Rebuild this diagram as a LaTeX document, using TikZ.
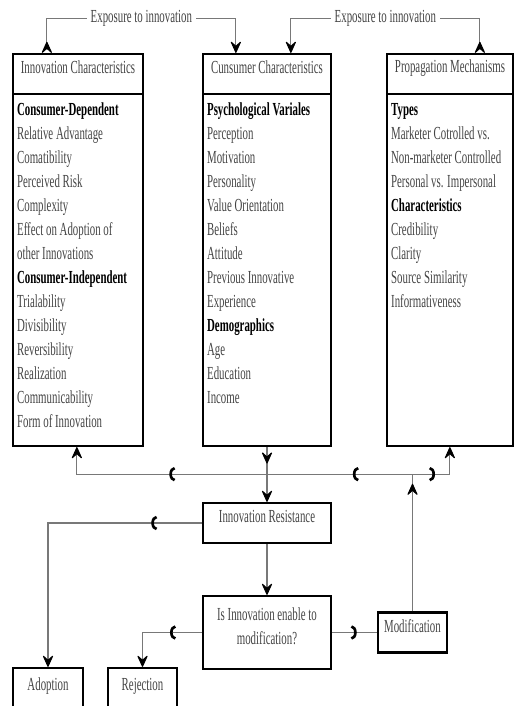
\documentclass[tikz,border=0pt]{standalone}
\usepackage{xcolor}
\usepackage{fontspec}
\setmainfont{Liberation Serif}[FakeStretch=0.59]
\usepackage{tikz}
\usetikzlibrary{calc, positioning, fit}
\usetikzlibrary{arrows.meta, decorations.markings}

\definecolor{txtgray}{RGB}{68,68,68}
\definecolor{wiregray}{RGB}{120,120,120}
\newcommand{\listhead}[1]{\textcolor{black}{\textbf{#1}}}

\tikzset{
  vtip/.tip={Stealth[color=black,length=10pt,width=9pt,inset=4pt,round]},
  rtip/.tip={Stealth[color=black,length=10pt,width=9pt,inset=4pt,round,reversed]},
  htip/.tip={Arc Barb[color=black,length=4pt,width=11pt,line width=2pt]},
  box/.style={draw=black, line width=1.7pt, inner sep=0pt, text=txtgray, align=center},
  wire/.style={draw=wiregray, line width=0.8pt},
  tag/.style={fill=white, inner sep=3pt, text=txtgray},
  itemlist/.style={anchor=north west, inner sep=0pt, align=left, text=txtgray},
  hmark/.style={postaction={decorate,decoration={markings,mark=at position #1 with {\arrow{htip}}}}},
  vmark/.style={postaction={decorate,decoration={markings,mark=at position #1 with {\arrow{vtip}}}}}
}

\begin{document}
\begin{tikzpicture}[x=0.75pt,y=0.75pt,yscale=-1,xscale=1,
    every node/.style={font=\fontsize{13.8}{18}\selectfont}]
\useasboundingbox (0,0) rectangle (515,706);

%Shape: Rectangle [titles]
\node[box, fit={(13,54) (143,94)}] (innT) {Innovation Characteristics};
\node[box, fit={(203,54) (331,94)}] (conT) {Cunsumer Characteristics};
\node[box, fit={(387,54) (513,94)}] (proT) {Propagation Mechanisms};
%Shape: Rectangle [bodies]
\node[box, fit={(13,94) (143,446)}] (innB) {};
\node[box, fit={(203,94) (331,446)}] (conB) {};
\node[box, fit={(387,94) (513,446)}] (proB) {};

% Text Node
\node[itemlist] (innL) at ([shift={(5,10)}]innB.north west) {\listhead{Consumer-Dependent}\\ Relative Advantage\\ Comatibility\\ Perceived Risk\\ Complexity\\ Effect on Adoption of\\ other Innovations\\ \listhead{Consumer-Independent}\\ Trialability\\ Divisibility\\ Reversibility\\ Realization\\ Communicability\\ Form of Innovation};
% Text Node
\node[itemlist] (conL) at ([shift={(5,10)}]conB.north west) {\listhead{Psychological Variales}\\ Perception\\ Motivation\\ Personality\\ Value Orientation\\ Beliefs\\ Attitude\\ Previous Innovative\\ Experience\\ \listhead{Demographics}\\ Age\\ Education\\ Income};
% Text Node
\node[itemlist] (proL) at ([shift={(5,10)}]proB.north west) {\listhead{Types}\\ Marketer Cotrolled vs.\\ Non-marketer Controlled\\ Personal vs. Impersonal\\ \listhead{Characteristics}\\ Credibility\\ Clarity\\ Source Similarity\\ Informativeness};

%Shape: Rectangle [lower boxes]
\node[box, fit={(203,503) (331,543)}] (resist) {Innovation Resistance};
\node[box, fit={(203,596) (331,669)}] (decide) {Is Innovation enable to\\ modification?};
\node[box, fit={(378,612.5) (447,652.5)}] (modif) {Modification};
\node[box, fit={(13,668) (83,716)}] (adopt) {Adoption};
\node[box, fit={(108,668) (177,716)}] (reject) {Rejection};

% connection points
\coordinate (innUp) at ([shift={(35,0)}]innT.north west);
\coordinate (conInL) at ([shift={(34,0)}]conT.north west);
\coordinate (conInR) at ([shift={(89,0)}]conT.north west);
\coordinate (proUp) at ([shift={(94,0)}]proT.north west);
\coordinate (innDown) at ([shift={(65,0)}]innB.south west);
\coordinate (proDown) at ([shift={(64,0)}]proB.south west);
\coordinate (hub) at ($(conB.south)+(0,27)$);
\coordinate (mhub) at (modif.north |- hub);

%Straight Lines [exposure]
\draw[wire,{rtip}-{vtip}] (innUp) -- ++(0,-34) -| node[tag,pos=0.25] {Exposure to innovation} (conInL);
\draw[wire,{vtip}-{rtip}] (conInR) -- ++(0,-34) -| node[tag,pos=0.25] {Exposure to innovation} (proUp);

%Straight Lines [feedback bus]
\draw[wire,-{vtip},vmark=0.3] (conB.south) -- (resist.north);
\draw[wire,-{vtip},hmark=0.45] (hub) -| (innDown);
\draw[wire,vmark=0.93] (modif.north) -- (mhub);
\draw[wire,hmark=0.41] (mhub) -- (hub);
\draw[wire,-{vtip},hmark=0.35] (mhub) -| (proDown);

%Straight Lines [outcomes]
\draw[wire,-{vtip},hmark=0.17] (resist.west) -| (adopt.north);
\draw[wire,-{vtip}] (resist.south) -- (decide.north);
\draw[wire,-{vtip},hmark=0.34] (decide.west) -| (reject.north);
\draw[wire,hmark=0.55] (decide.east) -- (modif.west);

\end{tikzpicture}
\end{document}
